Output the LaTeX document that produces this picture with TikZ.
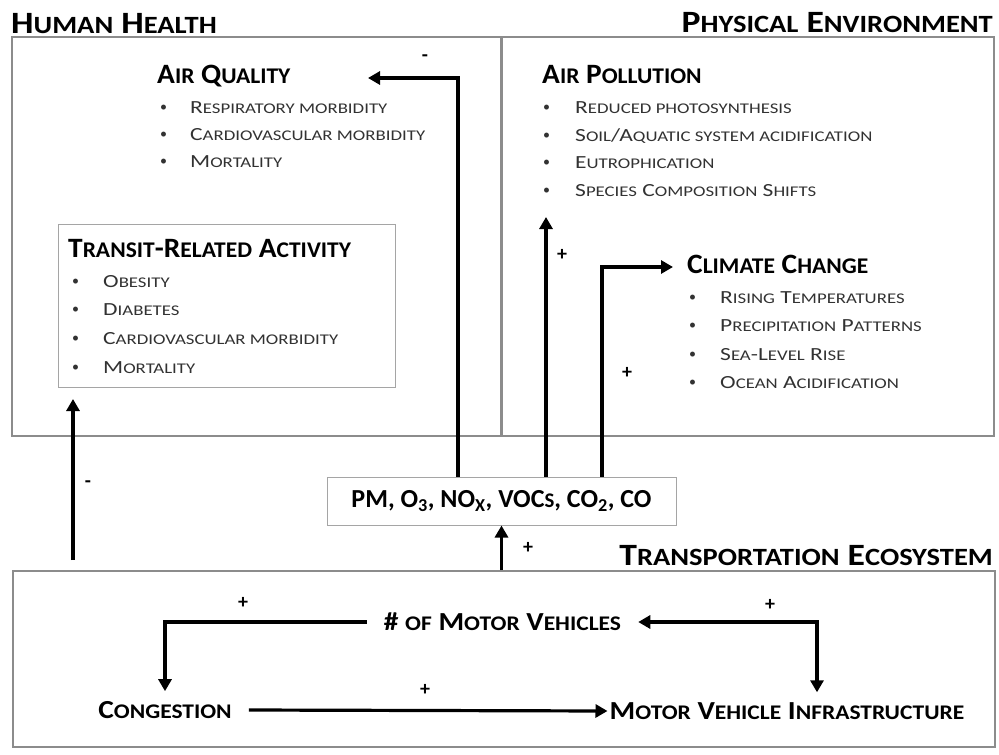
\documentclass[tikz,border=0pt]{standalone}
\usepackage{fontspec}
\setmainfont{Carlito}
\newfontfamily\grouplabelfont[FakeStretch=1.15]{Carlito}
\newfontfamily\headfont[FakeStretch=1.05]{Carlito}
\newfontfamily\itemfont[FakeStretch=1.27]{Carlito}
\newfontfamily\loopfont[FakeStretch=1.13]{Carlito}
\usepackage{tikz}
\usetikzlibrary{arrows.meta,positioning,calc}
\definecolor{boxgray}{RGB}{140,140,140}
\definecolor{thingray}{RGB}{165,165,165}
\definecolor{itemgray}{RGB}{50,50,50}
\makeatletter
\newcommand{\lowcap}[1]{{\fontsize{\dimexpr0.8\dimexpr\f@size pt\relax\relax}{0pt}\selectfont\MakeUppercase{#1}}}
\makeatother
\tikzset{
  groupbox/.style={draw=boxgray, line width=2.2pt, anchor=north west, inner sep=0pt},
  innerbox/.style={draw=thingray, line width=1pt, fill=white, inner sep=0pt},
  grouplabel/.style={font=\grouplabelfont\fontsize{31}{33}\selectfont\bfseries, inner sep=0pt},
  headtxt/.style={font=\headfont\fontsize{28}{30}\selectfont\bfseries, inner sep=0pt, anchor=base west},
  itemtxt/.style={font=\itemfont\fontsize{18.5}{20}\selectfont, text=itemgray, inner sep=0pt, anchor=base west},
  itembullet/.style={font=\fontsize{14}{15}\selectfont, text=itemgray, inner sep=0pt, anchor=base west, yshift=2pt},
  loopnode/.style={font=\loopfont\fontsize{26}{28}\selectfont\bfseries, inner xsep=17pt, inner ysep=10pt},
  flow/.style={-{Triangle[length=12pt,width=13pt]}, line width=3.2pt},
  twoflow/.style={{Triangle[length=12pt,width=13pt]}-{Triangle[length=12pt,width=13pt]}, line width=3.2pt},
  sign/.style={font=\fontsize{20}{22}\selectfont\bfseries, inner sep=0pt}
}
\begin{document}
\begin{tikzpicture}[x=1pt, y=-1pt]
\useasboundingbox (0,0) rectangle (999,755);
% group boxes
\node[groupbox, minimum width=489pt, minimum height=399pt] (hhbox) at (11,36) {};
\node[groupbox, minimum width=492pt, minimum height=399pt] (pebox) at (501,36) {};
\node[groupbox, minimum width=982pt, minimum height=176pt] (tebox) at (12,570) {};
\node[grouplabel, anchor=base west] (hhlabel) at (11,33) {H\lowcap{uman} H\lowcap{ealth}};
\node[grouplabel, anchor=base east] (pelabel) at (993,32) {P\lowcap{hysical} E\lowcap{nvironment}};
\node[grouplabel, anchor=base east] (telabel) at (993,565) {T\lowcap{ransportation} E\lowcap{cosystem}};

% air quality
\node[headtxt] (aqhead) at (157,83) {A\lowcap{ir} Q\lowcap{uality}};
\foreach \t [count=\i] in {R\lowcap{espiratory morbidity}, C\lowcap{ardiovascular morbidity}, M\lowcap{ortality}} {
  \node[itembullet] at (160,86+27*\i) {\textbullet};
  \node[itemtxt] (aq\i) at (190,86+27*\i) {\t};
}

% transit-related activity
\node[innerbox, anchor=north west, minimum width=337pt, minimum height=163pt] (trbox) at (58,224) {};
\node[headtxt] (trhead) at (68,257) {T\lowcap{ransit}-R\lowcap{elated} A\lowcap{ctivity}};
\foreach \t [count=\i] in {O\lowcap{besity}, D\lowcap{iabetes}, C\lowcap{ardiovascular morbidity}, M\lowcap{ortality}} {
  \node[itembullet] at (72,258.5+28.7*\i) {\textbullet};
  \node[itemtxt] (tr\i) at (103,258.5+28.7*\i) {\t};
}

% air pollution
\node[headtxt] (aphead) at (542,83) {A\lowcap{ir} P\lowcap{ollution}};
\foreach \t [count=\i] in {R\lowcap{educed photosynthesis}, S\lowcap{oil}/A\lowcap{quatic system acidification}, E\lowcap{utrophication}, S\lowcap{pecies} C\lowcap{omposition} S\lowcap{hifts}} {
  \node[itembullet] at (543,86+27.5*\i) {\textbullet};
  \node[itemtxt] (ap\i) at (575,86+27.5*\i) {\t};
}

% climate change
\node[headtxt] (cchead) at (687,273) {C\lowcap{limate} C\lowcap{hange}};
\foreach \t [count=\i] in {R\lowcap{ising} T\lowcap{emperatures}, P\lowcap{recipitation} P\lowcap{atterns}, S\lowcap{ea}-L\lowcap{evel} R\lowcap{ise}, O\lowcap{cean} A\lowcap{cidification}} {
  \node[itembullet] at (689,274.5+28.5*\i) {\textbullet};
  \node[itemtxt] (cc\i) at (720,274.5+28.5*\i) {\t};
}

% emissions
\node[innerbox, minimum width=349pt, minimum height=48pt, font=\fontsize{26}{28}\selectfont\bfseries] (emis) at (501.5,501)
  {PM, O\textsubscript{3}, NO\textsubscript{X}, VOC\lowcap{s}, CO\textsubscript{2}, CO};

% transportation loop
\node[loopnode] (mv) at (502.5,622) {\# \lowcap{of} M\lowcap{otor} V\lowcap{ehicles}};
\node[loopnode] (cong) at (165,710) {C\lowcap{ongestion}};
\node[loopnode, inner xsep=2pt] (mvi) at (787,711) {M\lowcap{otor} V\lowcap{ehicle} I\lowcap{nfrastructure}};

% connectors
\coordinate (aqRise) at (458,0);
\coordinate (aqTip) at (368,78);
\coordinate (apTip) at (546,217);
\coordinate (ccRise) at (602,0);
\coordinate (ccTip) at (673,267);
\coordinate (actTail) at (73,560);
\coordinate (actTip) at (73,399);
\coordinate (infraRise) at (817,0);
\draw[flow] (emis.north -| aqRise) |- (aqTip);
\draw[flow] (emis.north -| apTip) -- (apTip);
\draw[flow] (emis.north -| ccRise) |- (ccTip);
\draw[flow] (emis.south |- tebox.north) -- (emis.south);
\draw[flow] (actTail) -- (actTip);
\draw[flow] (mv.west) -| (cong.north);
\draw[flow] (cong.east) -- (mvi.west);
\draw[twoflow] (mv.east) -| (mvi.north -| infraRise);

% signs
\node[sign] at (425,58) {-};
\node[sign] at (562,255) {+};
\node[sign] at (627,373) {+};
\node[sign] at (88,484) {-};
\node[sign] at (528,548) {+};
\node[sign] at (243,603) {+};
\node[sign] at (770,605) {+};
\node[sign] at (425,690) {+};
\end{tikzpicture}
\end{document}
